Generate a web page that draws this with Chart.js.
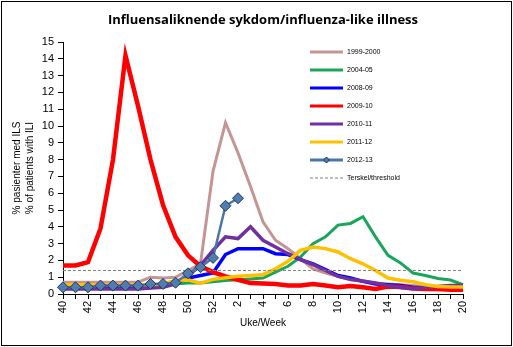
<!DOCTYPE html>
<html>
<head>
<meta charset="utf-8">
<title>Influensaliknende sykdom</title>
<script src="https://cdn.jsdelivr.net/npm/chart.js@4/dist/chart.umd.min.js"></script>
<style>
    html, body { margin: 0; padding: 0; background: #fff; }
    #chart { display: block; }
</style>
</head>
<body>
<canvas id="chart" width="513" height="347"></canvas>
<script>
// weeks 40-52 then 1-20
const weeks = ["40", "41", "42", "43", "44", "45", "46", "47", "48", "49", "50", "51", "52",
    "1", "2", "3", "4", "5", "6", "7", "8", "9", "10", "11", "12", "13", "14", "15", "16", "17", "18", "19", "20"];

const s1999 = [0.7, 0.7, 0.7, 0.7, 0.7, 0.7, 0.7, 1.0, 0.95, 1.0, 1.4, 1.8, 7.3,
    10.2, 8.4, 6.4, 4.3, 3.2, 2.7, 2.1, 1.5, 1.25, 1.05, 0.85, 0.75, 0.65, 0.6, 0.55, 0.5, 0.45, 0.45, 0.5, 0.5];
const s2004 = [0.5, 0.5, 0.5, 0.5, 0.5, 0.5, 0.5, 0.5, 0.5, 0.6, 0.65, 0.65, 0.73,
    0.8, 0.85, 0.9, 0.95, 1.3, 1.65, 2.2, 3.0, 3.4, 4.1, 4.2, 4.6, 3.4, 2.3, 1.85, 1.25, 1.1, 0.92, 0.83, 0.55];
const s2008 = [0.4, 0.4, 0.4, 0.4, 0.4, 0.4, 0.4, 0.4, 0.45, 0.7, 0.95, 1.1, 1.25,
    2.35, 2.7, 2.7, 2.7, 2.4, 2.35, 2.05, 1.8, 1.45, 1.1, 0.95, 0.75, 0.6, 0.55, 0.5, 0.4, 0.35, 0.35, 0.35, 0.35];
const s2009 = [1.7, 1.7, 1.9, 3.9, 8.0, 14.2, 11.2, 8.0, 5.3, 3.4, 2.3, 1.65, 1.3,
    1.05, 0.85, 0.65, 0.62, 0.6, 0.5, 0.5, 0.6, 0.5, 0.4, 0.47, 0.4, 0.3, 0.45, 0.42, 0.33, 0.3, 0.3, 0.25, 0.25];
const s2010 = [0.3, 0.3, 0.3, 0.3, 0.3, 0.3, 0.3, 0.35, 0.4, 0.6, 1.1, 1.7, 2.6,
    3.4, 3.3, 4.0, 3.2, 2.8, 2.4, 2.05, 1.75, 1.4, 1.05, 0.88, 0.77, 0.65, 0.5, 0.38, 0.32, 0.38, 0.45, 0.5, 0.5];
const s2011 = [0.55, 0.55, 0.55, 0.55, 0.55, 0.55, 0.55, 0.55, 0.6, 0.8, 0.85, 0.65, 0.87,
    0.97, 1.05, 1.1, 1.15, 1.5, 1.95, 2.6, 2.8, 2.7, 2.5, 2.1, 1.8, 1.4, 0.95, 0.82, 0.73, 0.55, 0.45, 0.42, 0.42];
const s2012 = [0.4, 0.4, 0.4, 0.5, 0.5, 0.5, 0.5, 0.6, 0.6, 0.67, 1.23, 1.6, 2.15,
    5.25, 5.7];
const threshold = 1.4;

const yTicks = { min: 0, max: 15, step: 1 };

const lineSet = (label, data, color, width, order) => ({
    label: label,
    data: data,
    borderColor: color,
    backgroundColor: color,
    borderWidth: width,
    pointRadius: 0,
    tension: 0,
    order: order,
});

// draws the title, the legend inside the plot and the outer frame
const decorations = {
    id: "decorations",
    afterDraw(chart) {
        const ctx = chart.ctx;
        ctx.save();

        ctx.strokeStyle = "#000";
        ctx.lineWidth = 1;
        ctx.strokeRect(1.5, 1.5, chart.width - 3, chart.height - 3);

        ctx.fillStyle = "#000";
        ctx.font = "bold 13px 'Open Sans', sans-serif";
        ctx.textAlign = "center";
        ctx.textBaseline = "middle";
        ctx.fillText("Influensaliknende sykdom/influenza-like illness", 263, 20);

        ctx.font = "7px 'Liberation Sans', Arial, sans-serif";
        ctx.textAlign = "left";
        chart.data.datasets.forEach((ds, i) => {
            const y = 52 + i * 18;
            ctx.beginPath();
            ctx.strokeStyle = ds.borderColor;
            ctx.lineWidth = ds.borderDash ? 1 : 3;
            ctx.setLineDash(ds.borderDash || []);
            ctx.moveTo(310, y);
            ctx.lineTo(343, y);
            ctx.stroke();
            ctx.setLineDash([]);
            if (ds.pointRadius > 0) {
                ctx.beginPath();
                ctx.moveTo(326.5, y - 3);
                ctx.lineTo(329.5, y);
                ctx.lineTo(326.5, y + 3);
                ctx.lineTo(323.5, y);
                ctx.closePath();
                ctx.fillStyle = ds.pointBackgroundColor;
                ctx.fill();
                ctx.strokeStyle = ds.pointBorderColor;
                ctx.lineWidth = 1;
                ctx.stroke();
            }
            ctx.fillStyle = "#000";
            ctx.fillText(ds.label, 347, y + 0.5);
        });
        ctx.restore();
    },
};

new Chart(document.getElementById("chart"), {
    type: "line",
    data: {
        labels: weeks,
        datasets: [
            lineSet("1999-2000", s1999, "#C49595", 3, 8),
            lineSet("2004-05", s2004, "#1AA55A", 3, 7),
            lineSet("2008-09", s2008, "#0000FF", 3.5, 6),
            lineSet("2009-10", s2009, "#FF0000", 4.5, 5),
            lineSet("2010-11", s2010, "#7030A0", 3.5, 4),
            lineSet("2011-12", s2011, "#FFC000", 3.5, 3),
            {
                label: "2012-13",
                data: s2012,
                borderColor: "#4A76A8",
                borderWidth: 2.5,
                pointStyle: "rectRot",
                pointRadius: 5.5,
                pointBackgroundColor: "#4F7DB0",
                pointBorderColor: "#213A57",
                pointBorderWidth: 1,
                tension: 0,
                order: 1,
            },
            {
                label: "Terskel/threshold",
                data: weeks.map(() => threshold),
                borderColor: "#808080",
                borderWidth: 1,
                borderDash: [3, 2],
                pointRadius: 0,
                tension: 0,
                order: 2,
            },
        ],
    },
    options: {
        responsive: false,
        animation: false,
        layout: { padding: { left: 11, right: 50, top: 42, bottom: 18 } },
        plugins: {
            legend: { display: false },
            title: { display: false },
            tooltip: { enabled: false },
        },
        scales: {
            x: {
                afterFit: (scale) => { scale.height = 35; },
                grid: { drawOnChartArea: false, color: "#000", tickLength: 5 },
                border: { color: "#000", width: 1 },
                ticks: {
                    color: "#000",
                    font: { family: "'Liberation Sans', Arial, sans-serif", size: 11 },
                    minRotation: 90,
                    maxRotation: 90,
                    autoSkip: false,
                    padding: 2,
                    callback: (value, index) => (index % 2 === 0 ? weeks[index] : ""),
                },
                title: {
                    display: true,
                    text: "Uke/Week",
                    color: "#000",
                    font: { family: "'Liberation Sans', Arial, sans-serif", size: 10 },
                    padding: { top: 4, bottom: 0 },
                },
            },
            y: {
                min: yTicks.min,
                max: yTicks.max,
                afterFit: (scale) => { scale.width = 52; },
                grid: { drawOnChartArea: false, color: "#000", tickLength: 5 },
                border: { color: "#000", width: 1 },
                ticks: {
                    stepSize: yTicks.step,
                    color: "#000",
                    font: { family: "'Liberation Sans', Arial, sans-serif", size: 11 },
                    padding: 4,
                },
                title: {
                    display: true,
                    text: ["% pasienter med ILS", "% of patients with ILI"],
                    color: "#000",
                    font: { family: "'Liberation Sans', Arial, sans-serif", size: 10, lineHeight: 1.3 },
                    padding: { top: 0, bottom: 0 },
                },
            },
        },
    },
    plugins: [decorations],
});
</script>
</body>
</html>
